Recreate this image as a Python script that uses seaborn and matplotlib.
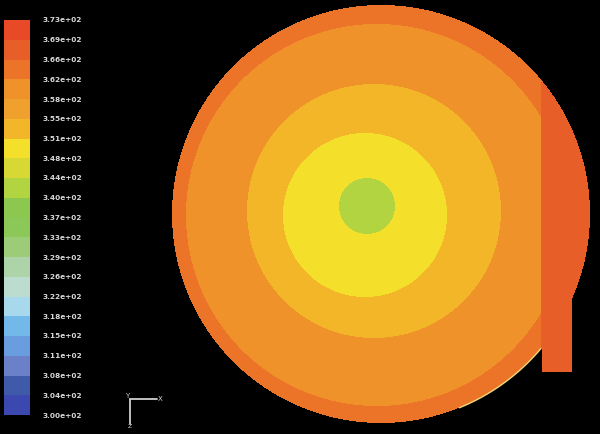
import numpy as np
import pandas as pd
import matplotlib.pyplot as plt
from matplotlib.colors import ListedColormap, BoundaryNorm
import seaborn as sns

# Fluent style band colours, lowest band first (20 bands)
band_colors = ["#3a48b0", "#3e5aa8", "#6a80c8", "#6a9ce0", "#72b8e8",
               "#a8d8ec", "#bcdcd0", "#acd4a8", "#9ccc78", "#8cc858",
               "#8cc850", "#b2d440", "#d8d834", "#f4e02a", "#f2b628",
               "#f0a02c", "#f0922a", "#ec7428", "#e85e28", "#e84a28"]

# colourbar labels (K), bottom to top
level_labels = ["3.00e+02", "3.04e+02", "3.08e+02", "3.11e+02", "3.15e+02",
                "3.18e+02", "3.22e+02", "3.26e+02", "3.29e+02", "3.33e+02",
                "3.37e+02", "3.40e+02", "3.44e+02", "3.48e+02", "3.51e+02",
                "3.55e+02", "3.58e+02", "3.62e+02", "3.66e+02", "3.69e+02",
                "3.73e+02"]
levels = np.linspace(300, 373, 21)

# temperature zones (outer wall -> core), pixel units
zone_temp = [364.0, 360.0, 353.0, 349.0, 342.0]
zone_cx = [381, 377, 374, 365, 367]
zone_cy = [214, 215, 211, 215, 206]
zone_r = [209, 191, 127, 82, 28]

# hotter strip along the right wall and the outlet duct
strip_temp = 367.5
strip_x0 = 541
outlet_x = [542, 572]
outlet_y = [290, 372]

W, H = 600, 434
yy, xx = np.mgrid[0:H, 0:W] + 0.5

field = np.full((H, W), np.nan)
for i, (t, cx, cy, r) in enumerate(zip(zone_temp, zone_cx, zone_cy, zone_r)):
    inside = (xx - cx) ** 2 + (yy - cy) ** 2 < r ** 2
    if i == 0:
        domain = inside
    field[inside] = t
    if i == 1:
        # right wall strip sits on top of the outer two zones
        field[domain & (xx > strip_x0)] = strip_temp
duct = (xx >= outlet_x[0]) & (xx <= outlet_x[1]) & (yy >= outlet_y[0]) & (yy <= outlet_y[1])
field[duct] = strip_temp
mask = np.isnan(field)

df = pd.DataFrame(field)

sns.set_style("dark")
fig = plt.figure(figsize=(6, 4.34), dpi=100, facecolor="black")
ax = fig.add_axes([0, 0, 1, 1])
cax = fig.add_axes([4 / W, (H - 415) / H, 26 / W, 395 / H])

cmap = ListedColormap(band_colors)
norm = BoundaryNorm(levels, cmap.N)
sns.heatmap(df, mask=mask, cmap=cmap, norm=norm, ax=ax, cbar_ax=cax,
            xticklabels=False, yticklabels=False, rasterized=True,
            cbar_kws={"ticks": levels})
ax.set_facecolor("black")
ax.set_xlim(0, W)
ax.set_ylim(H, 0)

# thin light wall line on the lower right arc
ang = np.radians(np.linspace(40, 68, 50))
ax.plot(zone_cx[0] + zone_r[0] * np.cos(ang), zone_cy[0] + zone_r[0] * np.sin(ang),
        color="#f4d878", lw=1.0)

# coordinate triad
tri = "#d0d0d0"
ax.plot([130, 130], [399, 424], color=tri, lw=1.3)
ax.plot([130, 157], [399, 399], color=tri, lw=1.3)
ax.text(127, 396, "Y", color=tri, fontsize=5, ha="center", va="center")
ax.text(160, 399, "X", color=tri, fontsize=5, ha="center", va="center")
ax.text(130, 427, "Z", color=tri, fontsize=4.5, ha="center", va="center")

cbar = ax.collections[0].colorbar
cbar.outline.set_visible(False)
cbar.ax.set_yticklabels(level_labels)
cbar.ax.tick_params(length=0, pad=9, labelsize=5.3, labelcolor="#d8d8d8")
for lab in cbar.ax.get_yticklabels():
    lab.set_fontweight("bold")

fig.savefig("out.png", dpi=100, facecolor="black")
